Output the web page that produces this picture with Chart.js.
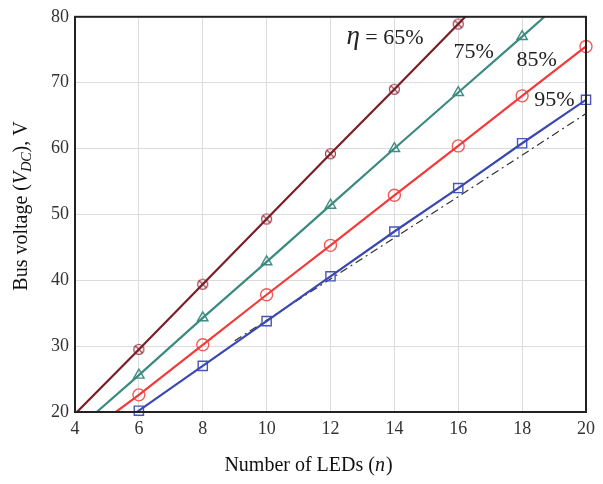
<!DOCTYPE html>
<html>
<head>
<meta charset="utf-8">
<script src="https://cdn.jsdelivr.net/npm/chart.js@4/dist/chart.umd.min.js"></script>
<style>
  html, body { margin: 0; padding: 0; background: #fff; }
</style>
</head>
<body>
<canvas id="busChart" width="603" height="484"></canvas>
<script>
// Bus voltage vs number of LEDs
const ledCounts = [6, 8, 10, 12, 14, 16, 18, 20];
const eta65 = [29.5, 39.4, 49.3, 59.2, 69.0, 78.9];
const eta75 = [25.6, 34.3, 42.8, 51.4, 60.0, 68.5, 77.0];
const eta85 = [22.6, 30.2, 37.8, 45.3, 52.9, 60.4, 68.0, 75.5];
const eta95 = [20.2, 27.0, 33.8, 40.6, 47.4, 54.0, 60.8, 67.4];
const etaNames = ["65%", "75%", "85%", "95%"];

// where each solid line enters and leaves the plot box
const startN = [4.0, 4.68, 5.28, 5.86];
const startV = [19.7, 20.0, 20.0, 19.8];
const endN = [16.22, 18.7, 20, 20];
const endV = [80.0, 80.0, 75.5, 67.4];

// dash-dot reference line
const refN = [9, 12, 16, 20];
const refV = [30.8, 40.2, 52.7, 65.3];

const xTicks = [4, 6, 8, 10, 12, 14, 16, 18, 20];
const yTicks = [20, 30, 40, 50, 60, 70, 80];

const SERIF = '"Liberation Serif", "DejaVu Serif", serif';
const colors = ["#7a1f26", "#3b8a80", "#f23a3a", "#3a48b2"];
const markerColors = ["#9a3a48", "#3f8e84", "#f25a5a", "#4656bb"];

// circle with a cross for the 65% markers
function crossCircle(color) {
  const c = document.createElement("canvas");
  c.width = 13; c.height = 13;
  const g = c.getContext("2d");
  g.strokeStyle = color;
  g.lineWidth = 1.2;
  g.beginPath();
  g.arc(6.5, 6.5, 5, 0, Math.PI * 2);
  g.stroke();
  g.beginPath();
  g.moveTo(3, 3); g.lineTo(10, 10);
  g.moveTo(10, 3); g.lineTo(3, 10);
  g.stroke();
  return c;
}

const seriesVals = [eta65, eta75, eta85, eta95];
const pointStyles = [crossCircle(markerColors[0]), "triangle", "circle", "rect"];
const pointSizes = [6, 6, 6, 6.5];

const datasets = [];
seriesVals.forEach((vals, i) => {
  const pts = vals.map((v, k) => ({ x: ledCounts[k], y: v }));
  const linePts = [{ x: startN[i], y: startV[i] }].concat(pts);
  if (endN[i] > ledCounts[vals.length - 1]) linePts.push({ x: endN[i], y: endV[i] });
  datasets.push({
    label: etaNames[i] + " line",
    data: linePts,
    showLine: true,
    borderColor: colors[i],
    borderWidth: 2.2,
    pointRadius: 0,
    tension: 0
  });
  datasets.push({
    label: etaNames[i],
    data: pts,
    showLine: false,
    pointStyle: pointStyles[i],
    pointRadius: pointSizes[i],
    borderColor: markerColors[i],
    backgroundColor: "rgba(0,0,0,0)",
    pointBorderWidth: 1.4,
    clip: false
  });
});
datasets.push({
  label: "reference",
  data: refN.map((n, k) => ({ x: n, y: refV[k] })),
  showLine: true,
  borderColor: "#333",
  borderWidth: 1.2,
  borderDash: [8, 4, 2, 4],
  pointRadius: 0
});

// labels next to the curves, in data units
const curveLabels = [
  { n: 12.5, v: 76.8, text: "65%", eta: true },
  { n: 15.85, v: 74.6, text: "75%" },
  { n: 17.82, v: 73.4, text: "85%" },
  { n: 18.38, v: 67.4, text: "95%" }
];

const decorations = {
  id: "decorations",
  afterDatasetsDraw(chart) {
    const ctx = chart.ctx;
    const xs = chart.scales.x, ys = chart.scales.y;
    const a = chart.chartArea;
    ctx.save();
    // box frame
    ctx.strokeStyle = "#222";
    ctx.lineWidth = 2;
    ctx.strokeRect(a.left, a.top, a.right - a.left, a.bottom - a.top);

    ctx.fillStyle = "#222";
    ctx.textBaseline = "middle";
    ctx.textAlign = "left";
    curveLabels.forEach(l => {
      let px = xs.getPixelForValue(l.n);
      const py = ys.getPixelForValue(l.v);
      if (l.eta) {
        ctx.font = "italic 27px " + SERIF;
        ctx.fillText("\u03b7", px, py - 1);
        px += ctx.measureText("\u03b7").width;
        ctx.font = "22px " + SERIF;
        ctx.fillText(" = " + l.text, px, py);
      } else {
        ctx.font = "22px " + SERIF;
        ctx.fillText(l.text, px, py);
      }
    });

    // x axis title
    ctx.fillStyle = "#111";
    const p1 = "Number of LEDs (", p3 = ")";
    ctx.font = "20px " + SERIF;
    const w1 = ctx.measureText(p1).width, w3 = ctx.measureText(p3).width;
    ctx.font = "italic 20px " + SERIF;
    const w2 = ctx.measureText("n").width;
    let x0 = 308 - (w1 + w2 + w3) / 2;
    const y0 = 466;
    ctx.font = "20px " + SERIF;
    ctx.fillText(p1, x0, y0);
    ctx.font = "italic 20px " + SERIF;
    ctx.fillText("n", x0 + w1, y0);
    ctx.font = "20px " + SERIF;
    ctx.fillText(p3, x0 + w1 + w2 + 1, y0);

    // y axis title, rotated, with V_DC subscript
    const parts = [
      { t: "Bus voltage (", f: "20px " + SERIF, dy: 0 },
      { t: "V", f: "italic 20px " + SERIF, dy: 0 },
      { t: "DC", f: "italic 14px " + SERIF, dy: 5 },
      { t: "), V", f: "20px " + SERIF, dy: 0 }
    ];
    let total = 0;
    parts.forEach(p => { ctx.font = p.f; p.w = ctx.measureText(p.t).width; total += p.w; });
    ctx.translate(22, 206);
    ctx.rotate(-Math.PI / 2);
    let cx = -total / 2;
    parts.forEach(p => {
      ctx.font = p.f;
      ctx.fillText(p.t, cx, p.dy);
      cx += p.w;
    });
    ctx.restore();
  }
};

new Chart(document.getElementById("busChart"), {
  type: "scatter",
  data: { datasets: datasets },
  plugins: [decorations],
  options: {
    responsive: false,
    animation: false,
    devicePixelRatio: 1,
    layout: { padding: { left: 0, top: 11, right: 17, bottom: 0 } },
    plugins: { legend: { display: false }, tooltip: { enabled: false } },
    scales: {
      x: {
        type: "linear",
        min: 4,
        max: 20,
        afterBuildTicks: s => { s.ticks = xTicks.map(v => ({ value: v })); },
        afterFit: s => { s.height = 72; },
        grid: { color: "#dcdcdc", lineWidth: 1, drawTicks: false },
        border: { display: false },
        ticks: { color: "#333", padding: 6, font: { family: SERIF, size: 18 } }
      },
      y: {
        type: "linear",
        min: 20,
        max: 80,
        afterBuildTicks: s => { s.ticks = yTicks.map(v => ({ value: v })); },
        afterFit: s => { s.width = 75; },
        grid: { color: "#dcdcdc", lineWidth: 1, drawTicks: false },
        border: { display: false },
        ticks: { color: "#333", padding: 6, font: { family: SERIF, size: 18 } }
      }
    }
  }
});
</script>
</body>
</html>
